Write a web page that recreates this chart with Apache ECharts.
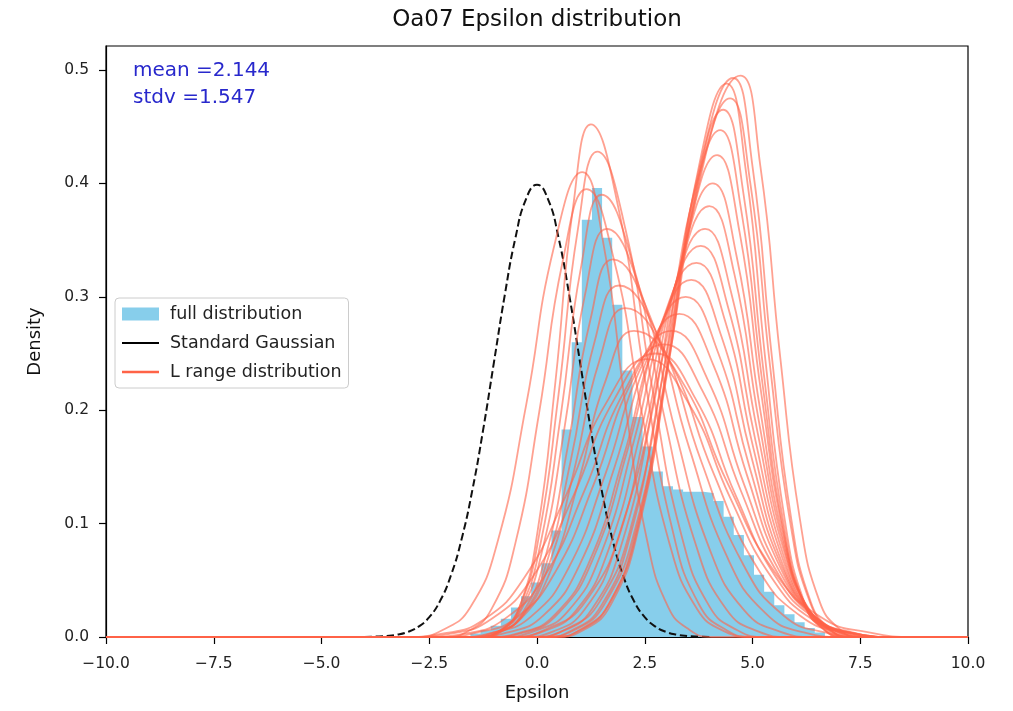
<!DOCTYPE html>
<html><head><meta charset="utf-8">
<script src="https://cdn.jsdelivr.net/npm/echarts@6/dist/echarts.min.js"></script>
<style>html,body{margin:0;padding:0;background:#fff}#c{width:1013px;height:711px}</style>
</head><body><div id="c"></div>
<script>
// ---------- data ----------
const titleText = 'Oa07 Epsilon distribution';
const xLabel = 'Epsilon';
const yLabel = 'Density';
const statsLines = ['mean =2.144', 'stdv =1.547'];
const xTicks = [-10, -7.5, -5, -2.5, 0, 2.5, 5, 7.5, 10];
const yTicks = [0, 0.1, 0.2, 0.3, 0.4, 0.5];

// histogram ("full distribution"): bin edges and densities
const histEdges = [-1.545,-1.31,-1.075,-0.84,-0.605,-0.37,-0.135,0.1,0.335,0.57,0.805,1.04,1.275,1.51,1.745,1.98,2.215,2.45,2.685,2.92,3.155,3.39,3.625,3.86,4.095,4.33,4.565,4.8,5.035,5.27,5.505,5.74,5.975,6.21,6.445,6.68];
const histHeights = [0.003,0.006,0.01,0.016,0.026,0.036,0.048,0.065,0.094,0.183,0.26,0.368,0.396,0.352,0.293,0.235,0.194,0.168,0.146,0.133,0.13,0.128,0.128,0.127,0.12,0.106,0.09,0.072,0.055,0.04,0.028,0.02,0.013,0.008,0.004];

// Standard Gaussian (dashed)
const gaussX = [-4,-3.75,-3.5,-3.25,-3,-2.75,-2.5,-2.25,-2,-1.75,-1.5,-1.25,-1,-0.75,-0.5,-0.25,0,0.25,0.5,0.75,1,1.25,1.5,1.75,2,2.25,2.5,2.75,3,3.25,3.5,3.75,4];
const gaussY = [0.0001,0.0004,0.0009,0.002,0.0044,0.0091,0.0175,0.0317,0.054,0.0863,0.1295,0.1826,0.242,0.3011,0.3521,0.3867,0.3989,0.3867,0.3521,0.3011,0.242,0.1826,0.1295,0.0863,0.054,0.0317,0.0175,0.0091,0.0044,0.002,0.0009,0.0004,0.0001];

// L range distributions: points
const lRangeCurves = [
 [[-0.68,0],[0.22,0.007],[1.12,0.031],[2.02,0.104],[2.92,0.248],[3.82,0.416],[4.72,0.495],[5.18,0.416],[5.64,0.248],[6.10,0.104],[6.56,0.031],[7.02,0.007],[7.48,0]],
 [[-0.1,0],[0.68,0.007],[1.45,0.031],[2.23,0.104],[3.0,0.247],[3.78,0.415],[4.55,0.493],[5.0,0.415],[5.45,0.247],[5.9,0.104],[6.35,0.031],[6.8,0.007],[7.25,0]],
 [[0.35,0],[1.03,0.007],[1.7,0.031],[2.38,0.103],[3.05,0.244],[3.73,0.41],[4.4,0.488],[4.85,0.41],[5.3,0.244],[5.75,0.103],[6.2,0.031],[6.65,0.007],[7.1,0]],
 [[0.13,0],[0.86,0.006],[1.58,0.03],[2.31,0.1],[3.03,0.238],[3.76,0.4],[4.48,0.475],[4.95,0.4],[5.41,0.238],[5.88,0.1],[6.34,0.03],[6.81,0.006],[7.27,0]],
 [[0.42,0],[1.07,0.006],[1.72,0.029],[2.37,0.098],[3.02,0.233],[3.67,0.391],[4.32,0.465],[4.79,0.391],[5.26,0.233],[5.73,0.098],[6.2,0.029],[6.67,0.006],[7.14,0]],
 [[0.35,0],[1.0,0.006],[1.65,0.028],[2.3,0.094],[2.95,0.224],[3.6,0.376],[4.25,0.447],[4.74,0.376],[5.23,0.224],[5.72,0.094],[6.21,0.028],[6.7,0.006],[7.19,0]],
 [[0.13,0],[0.81,0.006],[1.48,0.027],[2.16,0.089],[2.83,0.213],[3.51,0.357],[4.18,0.425],[4.7,0.357],[5.21,0.213],[5.73,0.089],[6.24,0.027],[6.76,0.006],[7.27,0]],
 [[-0.12,0],[0.58,0.005],[1.28,0.025],[1.98,0.084],[2.68,0.2],[3.38,0.336],[4.08,0.4],[4.63,0.336],[5.18,0.2],[5.73,0.084],[6.28,0.025],[6.83,0.005],[7.38,0]],
 [[-0.35,0],[0.38,0.005],[1.1,0.024],[1.83,0.08],[2.55,0.19],[3.28,0.32],[4.0,0.38],[4.58,0.32],[5.15,0.19],[5.73,0.08],[6.3,0.024],[6.88,0.005],[7.45,0]],
 [[-0.6,0],[0.15,0.005],[0.9,0.023],[1.65,0.076],[2.4,0.18],[3.15,0.303],[3.9,0.36],[4.51,0.303],[5.12,0.18],[5.73,0.076],[6.34,0.023],[6.95,0.005],[7.56,0]],
 [[-0.85,0],[-0.08,0.005],[0.7,0.022],[1.48,0.073],[2.25,0.173],[3.03,0.29],[3.8,0.345],[4.44,0.29],[5.07,0.173],[5.71,0.073],[6.34,0.022],[6.98,0.005],[7.61,0]],
 [[-1.1,0],[-0.3,0.004],[0.5,0.021],[1.3,0.069],[2.1,0.165],[2.9,0.278],[3.7,0.33],[4.37,0.278],[5.03,0.165],[5.7,0.069],[6.36,0.021],[7.03,0.004],[7.69,0]],
 [[-1.16,0],[-0.37,0.004],[0.42,0.02],[1.21,0.066],[2.0,0.158],[2.79,0.265],[3.58,0.315],[4.28,0.265],[4.98,0.158],[5.68,0.066],[6.38,0.02],[7.08,0.004],[7.78,0]],
 [[-1.5,0],[-0.68,0.004],[0.15,0.019],[0.98,0.063],[1.8,0.15],[2.63,0.252],[3.45,0.3],[4.19,0.252],[4.93,0.15],[5.67,0.063],[6.41,0.019],[7.15,0.004],[7.89,0]],
 [[-1.86,0],[-1.0,0.004],[-0.14,0.018],[0.72,0.06],[1.58,0.143],[2.44,0.24],[3.3,0.285],[4.09,0.24],[4.87,0.143],[5.66,0.06],[6.44,0.018],[7.23,0.004],[8.01,0]],
 [[-2.28,0],[-1.38,0.004],[-0.48,0.017],[0.42,0.057],[1.32,0.135],[2.22,0.227],[3.12,0.27],[3.96,0.227],[4.8,0.135],[5.64,0.057],[6.48,0.017],[7.32,0.004],[8.16,0]],
 [[-2.6,0],[-1.68,0.003],[-0.75,0.016],[0.18,0.054],[1.1,0.129],[2.03,0.217],[2.95,0.258],[3.84,0.217],[4.73,0.129],[5.62,0.054],[6.51,0.016],[7.4,0.003],[8.29,0]],
 [[-2.95,0],[-2.0,0.003],[-1.05,0.016],[-0.1,0.053],[0.85,0.125],[1.8,0.21],[2.75,0.25],[3.68,0.21],[4.61,0.125],[5.54,0.053],[6.47,0.016],[7.4,0.003],[8.33,0]],
 [[-3.15,0],[-2.2,0.003],[-1.25,0.015],[-0.3,0.052],[0.65,0.123],[1.6,0.206],[2.55,0.245],[3.52,0.206],[4.48,0.123],[5.45,0.052],[6.41,0.015],[7.38,0.003],[8.34,0]],
 [[-1.21,0],[-0.8,0.006],[-0.39,0.028],[0.02,0.095],[0.43,0.226],[0.84,0.38],[1.25,0.452],[1.88,0.38],[2.51,0.226],[3.14,0.095],[3.77,0.028],[4.4,0.006],[5.03,0]],
 [[-2.85,0],[-2.2,0.006],[-1.55,0.026],[-0.9,0.086],[-0.25,0.205],[0.4,0.345],[1.05,0.41],[1.55,0.345],[2.05,0.205],[2.55,0.086],[3.05,0.026],[3.55,0.006],[4.05,0]],
 [[-1.3,0],[-0.85,0.006],[-0.4,0.027],[0.05,0.09],[0.5,0.214],[0.95,0.36],[1.4,0.428],[2.05,0.36],[2.7,0.214],[3.35,0.09],[4.0,0.027],[4.65,0.006],[5.3,0]],
 [[-1.35,0],[-0.88,0.005],[-0.4,0.024],[0.08,0.082],[0.55,0.195],[1.03,0.328],[1.5,0.39],[2.23,0.328],[2.95,0.195],[3.68,0.082],[4.4,0.024],[5.13,0.005],[5.85,0]],
 [[-1.38,0],[-0.88,0.005],[-0.38,0.023],[0.12,0.076],[0.62,0.18],[1.12,0.303],[1.62,0.36],[2.42,0.303],[3.22,0.18],[4.02,0.076],[4.82,0.023],[5.62,0.005],[6.42,0]],
 [[-1.39,0],[-0.87,0.004],[-0.34,0.021],[0.19,0.07],[0.71,0.167],[1.24,0.28],[1.76,0.333],[2.65,0.28],[3.53,0.167],[4.42,0.07],[5.3,0.021],[6.19,0.004],[7.07,0]],
 [[-1.46,0],[-0.9,0.004],[-0.34,0.019],[0.22,0.065],[0.78,0.155],[1.34,0.261],[1.9,0.31],[2.86,0.261],[3.81,0.155],[4.77,0.065],[5.72,0.019],[6.68,0.004],[7.63,0]],
 [[-1.55,0],[-0.95,0.004],[-0.35,0.018],[0.25,0.061],[0.85,0.145],[1.45,0.244],[2.05,0.29],[3.07,0.244],[4.09,0.145],[5.11,0.061],[6.13,0.018],[7.15,0.004],[8.17,0]],
 [[-1.65,0],[-1.0,0.004],[-0.35,0.017],[0.3,0.057],[0.95,0.135],[1.6,0.227],[2.25,0.27],[3.34,0.227],[4.43,0.135],[5.52,0.057],[6.61,0.017],[7.7,0.004],[8.79,0]],
 [[-2.15,0],[-1.6,0.005],[-1.05,0.025],[-0.5,0.083],[0.05,0.198],[0.6,0.332],[1.15,0.395],[1.79,0.332],[2.43,0.198],[3.07,0.083],[3.71,0.025],[4.35,0.005],[4.99,0]]
];

// ---------- build chart ----------
const FONT = 'DejaVu Sans';
const X_MIN = -10, X_MAX = 10;

const histData = [[histEdges[0], 0]];
for (let i = 0; i < histHeights.length; i++) histData.push([histEdges[i], histHeights[i]]);
histData.push([histEdges[histEdges.length - 1], 0]);

const gaussData = gaussX.map((x, i) => [x, gaussY[i]]);

const fmtMinus = v => (v < 0 ? '\u2212' : '') + Math.abs(v).toFixed(1);

const series = [
  {
    name: 'full distribution', type: 'line', step: 'end', data: histData,
    symbol: 'none', lineStyle: { width: 0 }, itemStyle: { color: '#87CEEB' },
    areaStyle: { color: '#87CEEB', opacity: 1 }, z: 1, silent: true
  },
  {
    name: 'Standard Gaussian', type: 'line', data: gaussData, smooth: true,
    symbol: 'none', itemStyle: { color: '#000' },
    lineStyle: { color: '#111', width: 2, type: [7.5, 3.5] }, z: 2, silent: true
  }
];
lRangeCurves.forEach(c => {
  series.push({
    name: 'L range distribution', type: 'line', smooth: true, symbol: 'none',
    data: [[X_MIN, 0]].concat(c, [[X_MAX, 0]]),
    itemStyle: { color: '#FF6347' },
    lineStyle: { color: '#FF6347', width: 1.8, opacity: 0.6 }, z: 3, silent: true
  });
});

const chart = echarts.init(document.getElementById('c'), null, { renderer: 'canvas' });
chart.setOption({
  animation: false,
  backgroundColor: '#fff',
  grid: { left: 106, right: 45, top: 46, bottom: 74, show: true, borderColor: '#000', borderWidth: 1.2, backgroundColor: 'transparent' },
  graphic: [
    { type: 'text', x: 537, y: 20, style: { text: titleText, fill: '#111', font: '23px "DejaVu Sans"', align: 'center', verticalAlign: 'middle' } },
    { type: 'text', x: 133, y: 71, style: { text: statsLines[0], fill: '#2828cc', font: '20px "DejaVu Sans"', align: 'left', verticalAlign: 'middle' }, z: 10 },
    { type: 'text', x: 133, y: 98, style: { text: statsLines[1], fill: '#2828cc', font: '20px "DejaVu Sans"', align: 'left', verticalAlign: 'middle' }, z: 10 }
  ],
  legend: {
    orient: 'vertical', left: 115, top: 298,
    itemWidth: 37, itemHeight: 13, itemGap: 11,
    padding: [7, 7, 7, 7],
    backgroundColor: 'rgba(255,255,255,0.85)', borderColor: '#cccccc', borderWidth: 1, borderRadius: 4,
    textStyle: { fontFamily: FONT, fontSize: 17.5, color: '#222', padding: [0, 0, 0, 6], lineHeight: 17 },
    itemStyle: { borderWidth: 0 },
    selectedMode: false,
    data: [
      { name: 'full distribution', icon: 'rect', itemStyle: { color: '#87CEEB', borderWidth: 0 } },
      { name: 'Standard Gaussian', icon: 'path://M0,0H40V2H0Z', itemStyle: { color: '#000', borderWidth: 0 } },
      { name: 'L range distribution', icon: 'path://M0,0H40V2.6H0Z', itemStyle: { color: '#FF6347', opacity: 1, borderWidth: 0 } }
    ]
  },
  xAxis: {
    type: 'value', min: X_MIN, max: X_MAX, interval: 2.5,
    name: xLabel, nameLocation: 'middle', nameGap: 47,
    nameTextStyle: { fontFamily: FONT, fontSize: 18, color: '#111' },
    axisLine: { onZero: false, lineStyle: { color: '#000', width: 1.2 } },
    axisTick: { show: true, length: 7, inside: false, lineStyle: { color: '#000', width: 1.2 }, customValues: xTicks },
    axisLabel: { fontFamily: FONT, fontSize: 15.5, color: '#222', margin: 19, formatter: fmtMinus, customValues: xTicks },
    splitLine: { show: false }
  },
  yAxis: {
    type: 'value', min: 0, max: 0.5212,
    name: yLabel, nameLocation: 'middle', nameGap: 62, nameRotate: 90,
    nameTextStyle: { fontFamily: FONT, fontSize: 18, color: '#111' },
    axisLine: { show: true, onZero: false, lineStyle: { color: '#000', width: 1.2 } },
    axisTick: { show: true, length: 7, inside: false, lineStyle: { color: '#000', width: 1.2 }, customValues: yTicks },
    axisLabel: { fontFamily: FONT, fontSize: 15.5, color: '#222', margin: 17, formatter: v => v.toFixed(1), customValues: yTicks },
    splitLine: { show: false }
  },
  series: series
});
</script>
</body></html>
